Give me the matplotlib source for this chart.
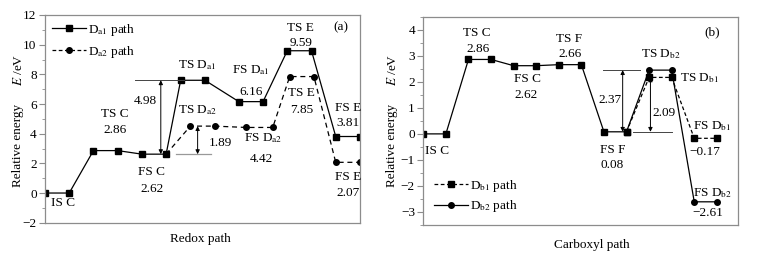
import matplotlib
matplotlib.use("Agg")
import matplotlib.pyplot as plt
from matplotlib.lines import Line2D
from matplotlib.ticker import MultipleLocator

plt.rcParams["font.family"] = ["Liberation Serif", "DejaVu Serif"]
plt.rcParams["mathtext.fontset"] = "stix"
plt.rcParams["font.size"] = 9.5

# ---- (a) redox path ----
redox_x_a1 = [0, 1, 2, 3, 4, 5, 5.6, 6.6, 8.0, 9.0, 10.0, 11.0, 12, 13]
redox_e_a1 = [0, 0, 2.86, 2.86, 2.62, 2.62, 7.60, 7.60, 6.16, 6.16, 9.59, 9.59, 3.81, 3.81]
redox_x_a2 = [5, 6.0, 7.0, 8.3, 9.4, 10.1, 11.1, 12, 13]
redox_e_a2 = [2.62, 4.51, 4.51, 4.42, 4.42, 7.85, 7.85, 2.07, 2.07]

# ---- (b) carboxyl path ----
carb_x_common = [0, 1, 2, 3, 4, 5, 6, 7, 8, 9]
carb_e_common = [0, 0, 2.86, 2.86, 2.62, 2.62, 2.66, 2.66, 0.08, 0.08]
carb_x_b = [9, 10, 11, 12, 13]
carb_e_b1 = [0.08, 2.17, 2.17, -0.17, -0.17]
carb_e_b2 = [0.08, 2.45, 2.45, -2.61, -2.61]

fig = plt.figure(figsize=(7.81, 2.58), dpi=100)
ax1 = fig.add_axes([0.0576, 0.1368, 0.4033, 0.8051])
ax2 = fig.add_axes([0.542, 0.128, 0.403, 0.807])

spine_col = "#8c8c8c"
for ax in (ax1, ax2):
    for s in ax.spines.values():
        s.set_color(spine_col)
        s.set_linewidth(0.9)
    ax.set_xticks([])
    ax.tick_params(axis="y", which="both", direction="out", color=spine_col, labelsize=9.5, pad=2)
    ax.tick_params(axis="y", which="major", length=4)
    ax.tick_params(axis="y", which="minor", length=2)

arrow_kw = dict(arrowstyle="<|-|>", color="black", lw=0.7, mutation_scale=6, shrinkA=0, shrinkB=0)

# panel (a)
ax1.plot(redox_x_a2, redox_e_a2, "--", color="black", lw=0.9, marker="o", ms=4, dashes=(4, 3))
ax1.plot(redox_x_a1, redox_e_a1, "-", color="black", lw=0.9, marker="s", ms=4)
ax1.set_xlim(0, 13)
ax1.set_ylim(-2, 12)
ax1.yaxis.set_major_locator(MultipleLocator(2))
ax1.yaxis.set_minor_locator(MultipleLocator(1))

# barrier arrows
ax1.plot([3.72, 5.72], [7.60, 7.60], color="#444444", lw=0.7)
ax1.annotate("", xy=(4.78, 2.62), xytext=(4.78, 7.60), arrowprops=arrow_kw)
ax1.text(4.13, 6.2, "4.98", ha="center", va="center")
ax1.plot([5.4, 6.85], [2.62, 2.62], color="#999999", lw=0.9)
ax1.annotate("", xy=(6.3, 2.62), xytext=(6.3, 4.51), arrowprops=arrow_kw)
ax1.text(6.75, 3.36, "1.89", ha="left", va="center")

labels_a = [
    (0.75, -0.65, "IS C"), (2.9, 5.3, "TS C"), (2.9, 4.25, "2.86"),
    (4.4, 1.4, "FS C"), (4.4, 0.3, "2.62"),
    (6.3, 8.6, "TS D$_{\\rm a1}$"), (8.5, 8.3, "FS D$_{\\rm a1}$"), (8.5, 6.8, "6.16"),
    (10.55, 11.1, "TS E"), (10.55, 10.1, "9.59"),
    (6.3, 5.6, "TS D$_{\\rm a2}$"), (9.0, 3.7, "FS D$_{\\rm a2}$"), (8.95, 2.29, "4.42"),
    (10.6, 6.73, "TS E"), (10.6, 5.6, "7.85"),
    (12.5, 5.75, "FS E"), (12.5, 4.7, "3.81"),
    (12.5, 1.1, "FS E"), (12.5, 0.0, "2.07"),
    (12.2, 11.2, "(a)"),
]
for x, y, t in labels_a:
    ax1.text(x, y, t, ha="center", va="center")

h1 = Line2D([], [], color="black", lw=0.9, marker="s", ms=4)
h2 = Line2D([], [], color="black", lw=0.9, ls="--", marker="o", ms=4, dashes=(3, 2))
ax1.legend([h1, h2], ["D$_{\\rm a1}$ path", "D$_{\\rm a2}$ path"], loc="upper left",
           frameon=False, handlelength=2.6, handletextpad=0.15, labelspacing=0.45,
           borderaxespad=0.1, fontsize=9.5)

# panel (b)
ax2.plot(carb_x_common, carb_e_common, "-", color="black", lw=0.9, marker="s", ms=4)
ax2.plot(carb_x_b, carb_e_b1, "--", color="black", lw=0.9, marker="s", ms=4, dashes=(3, 2))
ax2.plot(carb_x_b, carb_e_b2, "-", color="black", lw=0.9, marker="o", ms=4, markevery=[1, 2, 3, 4])
ax2.set_xlim(0, 13.94)
ax2.set_ylim(-3.5, 4.5)
ax2.yaxis.set_major_locator(MultipleLocator(1))
ax2.yaxis.set_minor_locator(MultipleLocator(0.5))

ax2.plot([7.95, 9.6], [2.45, 2.45], color="#444444", lw=0.7)
ax2.annotate("", xy=(8.83, 0.08), xytext=(8.83, 2.45), arrowprops=arrow_kw)
ax2.text(8.26, 1.32, "2.37", ha="center", va="center")
ax2.plot([9.28, 11.0], [0.08, 0.08], color="#444444", lw=0.7)
ax2.annotate("", xy=(10.06, 0.08), xytext=(10.06, 2.17), arrowprops=arrow_kw)
ax2.text(10.65, 0.81, "2.09", ha="center", va="center")

labels_b = [
    (0.62, -0.67, "IS C"), (2.36, 3.89, "TS C"), (2.42, 3.25, "2.86"),
    (4.6, 2.12, "FS C"), (4.53, 1.48, "2.62"),
    (6.45, 3.63, "TS F"), (6.52, 3.06, "2.66"),
    (8.4, -0.6, "FS F"), (8.36, -1.18, "0.08"),
    (10.5, 3.06, "TS D$_{\\rm b2}$"),
    (12.8, 0.3, "FS D$_{\\rm b1}$"), (12.45, -0.71, "\u22120.17"),
    (12.8, -2.27, "FS D$_{\\rm b2}$"), (12.6, -3.05, "\u22122.61"),
    (12.8, 3.89, "(b)"),
]
for x, y, t in labels_b:
    ax2.text(x, y, t, ha="center", va="center")
ax2.text(11.39, 2.16, "TS D$_{\\rm b1}$", ha="left", va="center")

g1 = Line2D([], [], color="black", lw=0.9, ls="--", marker="s", ms=4, dashes=(3, 2))
g2 = Line2D([], [], color="black", lw=0.9, marker="o", ms=4)
ax2.legend([g1, g2], ["D$_{\\rm b1}$ path", "D$_{\\rm b2}$ path"], loc="lower left",
           frameon=False, handlelength=2.6, handletextpad=0.15, labelspacing=0.35,
           borderaxespad=0.4, fontsize=9.5)

# axis titles
fig.text(18 / 781, 1 - 145 / 258, "Relative energy", rotation=90, ha="center", va="center", fontsize=9.5)
fig.text(18 / 781, 1 - 70 / 258, "$E$ /eV", rotation=90, ha="center", va="center", fontsize=9.5)
fig.text(392 / 781, 1 - 145 / 258, "Relative energy", rotation=90, ha="center", va="center", fontsize=9.5)
fig.text(392 / 781, 1 - 70 / 258, "$E$ /eV", rotation=90, ha="center", va="center", fontsize=9.5)
fig.text(200 / 781, 1 - 239 / 258, "Redox path", ha="center", va="center", fontsize=9.5)
fig.text(592 / 781, 1 - 245 / 258, "Carboxyl path", ha="center", va="center", fontsize=9.5)

fig.savefig("out.png", dpi=100)
